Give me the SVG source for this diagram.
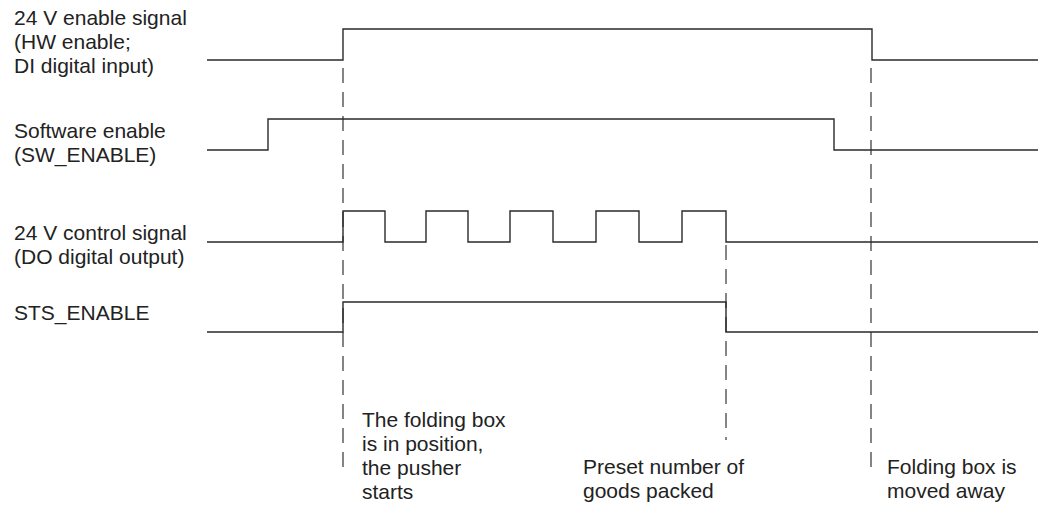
<svg xmlns="http://www.w3.org/2000/svg" width="1041" height="513" viewBox="0 0 1041 513">
<style>
.sig{fill:none;stroke:#2a2a2a;stroke-width:1.4;stroke-linejoin:miter}
.dash{fill:none;stroke:#666;stroke-width:1.6;stroke-dasharray:15 9}
text{font-family:"Liberation Sans",Arial,sans-serif;font-size:21px;fill:#222}
</style>
<rect width="1041" height="513" fill="#fff"/>
<g id="connectors">
<path class="dash" d="M343 68V472"/>
<path class="dash" d="M726 245V440"/>
<path class="dash" d="M871 68V472"/>
</g>
<g id="sig-hw-enable">
<path class="sig" d="M207 60H343V29H872V60H1038"/>
<text x="14" y="25">24 V enable signal</text>
<text x="14" y="49">(HW enable;</text>
<text x="14" y="73">DI digital input)</text>
</g>
<g id="sig-sw-enable">
<path class="sig" d="M207 150H268V119H834V150H1038"/>
<text x="14" y="138">Software enable</text>
<text x="14" y="162">(SW_ENABLE)</text>
</g>
<g id="sig-control">
<path class="sig" d="M207 242H343V211H385V242H426V211H468V242H510V211H553V242H596V211H639V242H682V211H726V242H1038"/>
<text x="14" y="240">24 V control signal</text>
<text x="14" y="264">(DO digital output)</text>
</g>
<g id="sig-sts-enable">
<path class="sig" d="M207 332H343V302H726V332H1038"/>
<text x="14" y="320">STS_ENABLE</text>
</g>
<g id="note-start">
<text x="362" y="427">The folding box</text>
<text x="362" y="451">is in position,</text>
<text x="362" y="475">the pusher</text>
<text x="362" y="499">starts</text>
</g>
<g id="note-preset">
<text x="583" y="474">Preset number of</text>
<text x="583" y="498">goods packed</text>
</g>
<g id="note-away">
<text x="887" y="474">Folding box is</text>
<text x="887" y="498">moved away</text>
</g>
</svg>
